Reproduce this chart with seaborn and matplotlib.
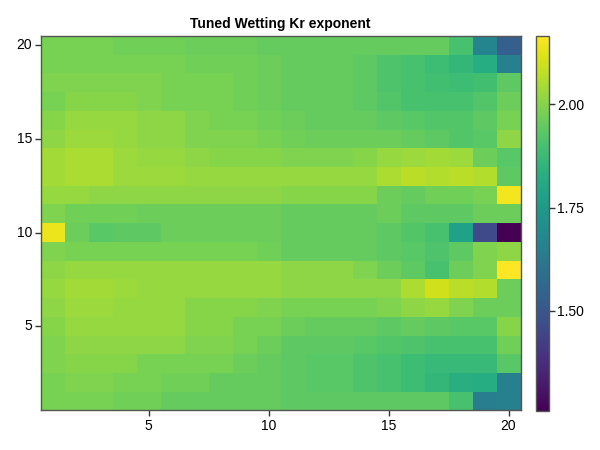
import numpy as np
import pandas as pd
import matplotlib
matplotlib.use("Agg")
import matplotlib.pyplot as plt
import seaborn as sns

# cell values, listed from the top row (y = 20) down to the bottom row (y = 1)
x_labels = list(range(1, 21))
y_labels = list(range(20, 0, -1))

row20 = [1.98, 1.98, 1.98, 1.97, 1.97, 1.97, 1.96, 1.96, 1.96, 1.95, 1.95, 1.95, 1.95, 1.95, 1.95, 1.95, 1.95, 1.90, 1.67, 1.53]
row19 = [1.98, 1.98, 1.98, 1.98, 1.98, 1.98, 1.97, 1.97, 1.97, 1.96, 1.95, 1.95, 1.95, 1.94, 1.91, 1.90, 1.88, 1.86, 1.82, 1.65]
row18 = [1.99, 1.99, 1.99, 1.99, 1.99, 1.98, 1.98, 1.98, 1.97, 1.96, 1.95, 1.95, 1.95, 1.94, 1.91, 1.90, 1.89, 1.88, 1.89, 1.94]
row17 = [1.98, 2.00, 2.00, 2.00, 1.99, 1.98, 1.98, 1.98, 1.97, 1.96, 1.95, 1.95, 1.95, 1.94, 1.92, 1.90, 1.90, 1.90, 1.92, 1.96]
row16 = [2.00, 2.02, 2.02, 2.02, 2.01, 2.01, 1.99, 1.98, 1.98, 1.97, 1.96, 1.95, 1.95, 1.95, 1.94, 1.93, 1.92, 1.92, 1.94, 1.98]
row15 = [2.01, 2.03, 2.03, 2.02, 2.01, 2.01, 1.99, 1.99, 1.99, 1.98, 1.97, 1.96, 1.96, 1.96, 1.96, 1.95, 1.94, 1.92, 1.93, 2.01]
row14 = [2.04, 2.05, 2.05, 2.03, 2.02, 2.02, 2.01, 2.00, 2.00, 2.00, 1.99, 1.99, 1.99, 2.00, 2.02, 2.03, 2.04, 2.03, 1.96, 1.93]
row13 = [2.04, 2.05, 2.05, 2.03, 2.03, 2.03, 2.02, 2.02, 2.02, 2.02, 2.02, 2.02, 2.02, 2.02, 2.05, 2.07, 2.06, 2.07, 2.06, 1.94]
row12 = [2.02, 2.02, 2.01, 2.01, 2.01, 2.01, 2.01, 2.01, 2.01, 2.01, 2.00, 2.00, 2.00, 2.00, 1.96, 1.95, 1.97, 1.97, 1.98, 2.15]
row11 = [1.99, 1.97, 1.97, 1.97, 1.96, 1.96, 1.96, 1.96, 1.96, 1.96, 1.95, 1.95, 1.95, 1.95, 1.96, 1.94, 1.94, 1.94, 1.96, 1.96]
row10 = [2.14, 1.96, 1.93, 1.94, 1.94, 1.96, 1.96, 1.96, 1.96, 1.96, 1.95, 1.95, 1.95, 1.95, 1.94, 1.92, 1.90, 1.78, 1.46, 1.258]
row9 = [1.99, 1.98, 1.98, 1.98, 1.98, 1.98, 1.98, 1.98, 1.98, 1.97, 1.95, 1.95, 1.95, 1.95, 1.94, 1.93, 1.91, 1.94, 1.99, 2.01]
row8 = [2.01, 2.02, 2.02, 2.02, 2.02, 2.02, 2.02, 2.02, 2.02, 2.02, 2.01, 2.01, 2.01, 1.99, 1.96, 1.94, 1.90, 1.96, 1.99, 2.165]
row7 = [2.02, 2.04, 2.04, 2.03, 2.02, 2.02, 2.02, 2.02, 2.02, 2.02, 2.01, 2.01, 2.01, 2.01, 2.01, 2.05, 2.10, 2.07, 2.06, 1.96]
row6 = [2.01, 2.03, 2.03, 2.02, 2.02, 2.02, 2.00, 2.00, 2.00, 1.99, 1.98, 1.98, 1.98, 1.98, 1.99, 2.01, 2.02, 1.99, 1.96, 1.96]
row5 = [2.00, 2.02, 2.02, 2.02, 2.02, 2.02, 2.00, 2.00, 1.98, 1.98, 1.96, 1.95, 1.95, 1.95, 1.94, 1.95, 1.94, 1.93, 1.93, 2.00]
row4 = [1.99, 2.01, 2.01, 2.01, 2.01, 2.01, 1.99, 1.99, 1.98, 1.96, 1.94, 1.94, 1.94, 1.93, 1.92, 1.91, 1.90, 1.90, 1.90, 1.97]
row3 = [1.99, 2.00, 2.00, 2.00, 1.98, 1.98, 1.98, 1.98, 1.96, 1.95, 1.94, 1.93, 1.93, 1.91, 1.90, 1.88, 1.87, 1.87, 1.87, 1.93]
row2 = [1.98, 1.99, 1.99, 1.98, 1.98, 1.97, 1.97, 1.95, 1.95, 1.95, 1.94, 1.93, 1.93, 1.91, 1.90, 1.88, 1.86, 1.83, 1.82, 1.65]
row1 = [1.98, 1.98, 1.98, 1.97, 1.97, 1.95, 1.95, 1.95, 1.95, 1.95, 1.94, 1.94, 1.94, 1.94, 1.94, 1.94, 1.94, 1.90, 1.64, 1.65]

tick_values = [5, 10, 15, 20]
cbar_ticks = [1.50, 1.75, 2.00]

rows = [row20, row19, row18, row17, row16, row15, row14, row13, row12, row11,
        row10, row9, row8, row7, row6, row5, row4, row3, row2, row1]
df = pd.DataFrame(rows, index=y_labels, columns=x_labels)

plt.rcParams['font.family'] = ['Liberation Sans', 'DejaVu Sans']
frame_color = '#555555'

fig = plt.figure(figsize=(6, 4.5), dpi=100)
ax = fig.add_axes([0.0675, 0.088, 0.8, 0.832])
cax = fig.add_axes([0.894, 0.087, 0.021, 0.833])

sns.heatmap(df, cmap='viridis', ax=ax, cbar_ax=cax,
            cbar_kws={'ticks': cbar_ticks})

# ticks at the cell centres of 5, 10, 15, 20
ax.set_xticks([x_labels.index(v) + 0.5 for v in tick_values])
ax.set_xticklabels([str(v) for v in tick_values], rotation=0)
ax.set_yticks([y_labels.index(v) + 0.5 for v in tick_values])
ax.set_yticklabels([str(v) for v in tick_values], rotation=0)
ax.set_xlabel('')
ax.set_ylabel('')
ax.tick_params(axis='both', length=4, width=1, color='#333333',
               labelsize=10, pad=2)
for spine in ax.spines.values():
    spine.set_visible(True)
    spine.set_color(frame_color)
    spine.set_linewidth(1)

ax.set_title('Tuned Wetting Kr exponent', fontsize=10, fontweight='bold', pad=6)

cax.set_yticklabels([f'{t:.2f}' for t in cbar_ticks])
cax.tick_params(length=4, width=1, color='#333333', labelsize=10, pad=2)
cbar = ax.collections[0].colorbar
cbar.outline.set_visible(True)
cbar.outline.set_edgecolor(frame_color)
cbar.outline.set_linewidth(1)

fig.savefig('out.png', dpi=100)
